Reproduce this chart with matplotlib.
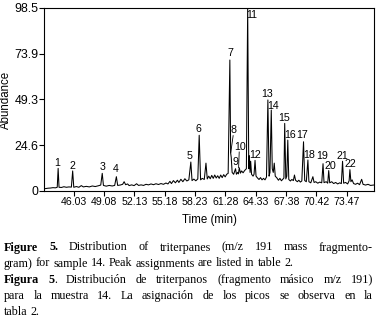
"""m/z 191 fragmentogram (triterpanes, sample 14) with the bilingual caption underneath."""
import matplotlib

matplotlib.use("Agg")
import matplotlib.pyplot as plt
from matplotlib import font_manager

# chromatogram trace (time in min, abundance)
time_min = [
    43.20, 43.45, 43.70, 43.95, 44.20, 44.38, 44.47, 44.56, 44.80, 45.05,
    45.30, 45.55, 45.80, 45.93, 46.04, 46.30, 46.55, 46.80, 47.00, 47.30,
    47.60, 47.90, 48.20, 48.50, 48.75, 48.90, 49.02, 49.30, 49.60, 49.90,
    50.15, 50.32, 50.45, 50.70, 50.95, 51.10, 51.25, 51.45, 51.60, 51.85,
    52.10, 52.35, 52.55, 52.80, 53.05, 53.30, 53.55, 53.80, 54.05, 54.30,
    54.55, 54.80, 55.05, 55.30, 55.50, 55.70, 55.85, 56.05, 56.25, 56.45,
    56.60, 56.80, 57.00, 57.20, 57.40, 57.60, 57.80, 57.92, 58.10, 58.30,
    58.50, 58.64, 58.78, 58.95, 59.15, 59.32, 59.45, 59.60, 59.75, 59.90,
    60.05, 60.20, 60.35, 60.50, 60.65, 60.80, 60.95, 61.10, 61.25, 61.40,
    61.55, 61.72, 61.80, 61.86, 61.95, 62.10, 62.20, 62.29, 62.38, 62.50,
    62.58, 62.67, 62.78, 62.90, 63.05, 63.20, 63.38, 63.51, 63.62, 63.68,
    63.75, 63.81, 63.90, 64.05, 64.15, 64.25, 64.35, 64.50, 64.65, 64.80,
    64.95, 65.10, 65.25, 65.40, 65.54, 65.66, 65.75, 65.88, 65.98, 66.08,
    66.18, 66.28, 66.45, 66.60, 66.75, 66.90, 67.05, 67.15, 67.23, 67.34,
    67.44, 67.54, 67.64, 67.80, 67.95, 68.10, 68.21, 68.32, 68.50, 68.65,
    68.80, 68.95, 69.12, 69.24, 69.40, 69.56, 69.66, 69.85, 70.06, 70.18,
    70.35, 70.55, 70.75, 70.95, 71.08, 71.18, 71.40, 71.55, 71.65, 71.75,
    71.95, 72.15, 72.35, 72.55, 72.75, 72.92, 73.04, 73.15, 73.35, 73.55,
    73.70, 73.78, 73.88, 74.00, 74.15, 74.35, 74.55, 74.75, 74.96, 75.10,
    75.35, 75.60, 75.85, 76.15,
]
abundance = [
    1.3, 1.5, 1.6, 1.8, 1.7, 2.0, 12.2, 2.0, 1.9, 2.3,
    2.0, 2.2, 2.1, 10.8, 2.0, 2.4, 2.0, 2.9, 2.2, 2.5,
    2.2, 2.7, 2.4, 2.8, 3.2, 9.5, 3.0, 2.6, 3.0, 2.7,
    3.0, 7.7, 3.0, 3.2, 3.6, 5.0, 3.4, 3.8, 2.9, 3.3,
    2.9, 3.9, 3.0, 3.3, 3.0, 3.6, 3.3, 3.8, 3.4, 3.9,
    3.5, 4.0, 3.6, 4.3, 3.8, 5.2, 4.0, 5.6, 4.4, 5.8,
    4.6, 6.3, 5.0, 6.6, 5.4, 6.0, 15.6, 5.6, 6.4, 5.5,
    6.5, 30.0, 6.0, 6.8, 6.2, 15.0, 6.5, 8.0, 6.6, 8.4,
    6.8, 8.6, 7.0, 8.2, 6.8, 8.6, 7.2, 8.8, 7.6, 9.0,
    9.5, 70.5, 20.5, 18.0, 10.0, 9.0, 10.5, 12.0, 9.0, 10.0,
    9.2, 12.5, 9.6, 10.8, 9.8, 11.0, 12.0, 98.5, 12.0, 19.0,
    10.0, 16.0, 9.0, 8.0, 9.0, 16.5, 8.0, 7.0, 6.2, 7.2,
    6.0, 6.8, 6.0, 7.5, 49.0, 8.0, 10.0, 43.6, 12.0, 10.0,
    15.0, 8.0, 7.0, 5.8, 6.8, 5.5, 6.4, 7.0, 36.4, 6.5,
    8.0, 27.4, 6.2, 5.4, 6.2, 5.6, 8.6, 5.8, 5.0, 5.8,
    4.8, 5.4, 26.5, 5.6, 5.0, 16.7, 5.0, 4.4, 7.7, 4.6,
    5.0, 4.2, 4.8, 4.4, 14.7, 4.5, 5.0, 4.2, 11.0, 4.4,
    5.0, 4.0, 4.6, 3.8, 4.4, 4.0, 16.0, 4.2, 4.6, 3.8,
    5.5, 11.5, 5.0, 6.0, 4.0, 3.6, 4.2, 3.4, 6.3, 3.6,
    3.2, 3.6, 3.0, 3.2,
]

# peak numbers and where their labels sit
peak_ids = [str(i) for i in range(1, 23)]
label_t = [44.42, 45.87, 48.89, 50.30, 57.63, 58.58, 61.79, 62.12, 62.29, 62.73, 63.92,
           64.29, 65.44, 66.11, 67.12, 67.73, 69.02, 69.66, 71.01, 71.82, 73.00, 73.78]
label_y = [15.2, 13.6, 13.1, 11.8, 19.0, 33.4, 74.4, 32.6, 15.5, 23.8, 94.7,
           19.4, 52.0, 45.7, 39.5, 30.2, 29.9, 19.4, 19.0, 13.6, 19.0, 14.3]

# leader lines for peaks 8 and 10
leader_t = [(62.05, 61.81), (62.66, 62.60)]
leader_y = [(29.8, 20.6), (21.0, 12.6)]

x_ticks = [46.03, 49.08, 52.13, 55.18, 58.23, 61.28, 64.33, 67.38, 70.42, 73.47]
y_ticks = [0, 24.6, 49.3, 73.9, 98.5]
y_tick_labels = ["0", "24.6", "49.3", "73.9", "98.5"]

# caption: each line is a list of words, each word a list of (text, bold) runs
CAPTION = [
    ([[("Figure", True)], [("5.", True)], [("Distribution", False)], [("of", False)],
      [("triterpanes", False)], [("(m/z", False)], [("191", False)], [("mass", False)],
      [("fragmento-", False)]], True, 250.5),
    ([[(w, False)] for w in "gram) for sample 14. Peak assignments are listed in table 2.".split()],
     False, 266.5),
    ([[("Figura", True)], [("5", True), (".", False)], [("Distribución", False)], [("de", False)],
      [("triterpanos", False)], [("(fragmento", False)], [("másico", False)], [("m/z", False)],
      [("191)", False)]], True, 283),
    ([[(w, False)] for w in "para la muestra 14. La asignación de los picos se observa en la".split()],
     True, 299),
    ([[(w, False)] for w in "tabla 2.".split()], False, 315),
]

W, H = 376, 326
SANS = "Liberation Sans"
_names = {f.name for f in font_manager.fontManager.ttflist}
NARROW = "Liberation Sans Narrow" if "Liberation Sans Narrow" in _names else SANS
SERIF = "Liberation Serif"
CAP_SIZE = 8.7
CAP_LEFT, CAP_RIGHT = 4.0, 373.0


def draw_caption(fig):
    renderer = fig.canvas.get_renderer()

    def measure(text, bold):
        t = fig.text(0, 0, text, family=SERIF, size=CAP_SIZE,
                     weight="bold" if bold else "normal")
        w = t.get_window_extent(renderer).width
        t.remove()
        return w

    space = measure("a a", False) - measure("aa", False)
    for words, justify, baseline in CAPTION:
        widths = [sum(measure(txt, b) for txt, b in word) for word in words]
        if justify and len(words) > 1:
            gap = (CAP_RIGHT - CAP_LEFT - sum(widths)) / (len(words) - 1)
        else:
            gap = space
        x = CAP_LEFT
        for word, w in zip(words, widths):
            rx = x
            for txt, b in word:
                fig.text(rx / W, 1 - baseline / H, txt, family=SERIF, size=CAP_SIZE,
                         weight="bold" if b else "normal", va="baseline", ha="left")
                rx += measure(txt, b)
            x += w + gap


fig = plt.figure(figsize=(W / 100, H / 100), dpi=100)
ax = fig.add_axes([44 / W, 1 - 191 / H, 330 / W, 183 / H])

ax.plot(time_min, abundance, color="black", linewidth=0.75)
for pid, t, y in zip(peak_ids, label_t, label_y):
    ax.text(t, y, pid, family=NARROW, size=7.7, ha="center", va="center")
for lt, ly in zip(leader_t, leader_y):
    ax.plot(lt, ly, color="black", linewidth=0.6)

ax.set_xlim(43.05, 76.2)
ax.set_ylim(0, 98.5)
ax.set_xticks(x_ticks)
ax.set_xticklabels([f"{v:.2f}" for v in x_ticks], family=NARROW, size=7.6)
ax.set_yticks(y_ticks)
ax.set_yticklabels(y_tick_labels, family=SANS, size=8.9)
ax.tick_params(axis="x", direction="out", length=3.5, width=0.8, pad=0.8)
ax.tick_params(axis="y", direction="out", length=3.5, width=0.8, pad=0.5)
for sp in ax.spines.values():
    sp.set_linewidth(0.8)

ax.set_xlabel("Time (min)", family=SANS, size=8.3)
ax.set_ylabel("Abundance", family=SANS, size=8.3)
ax.xaxis.set_label_coords(0.5, -0.128)
ax.yaxis.set_label_coords(-0.098, 0.5)

draw_caption(fig)
fig.savefig("out.png", dpi=100)
